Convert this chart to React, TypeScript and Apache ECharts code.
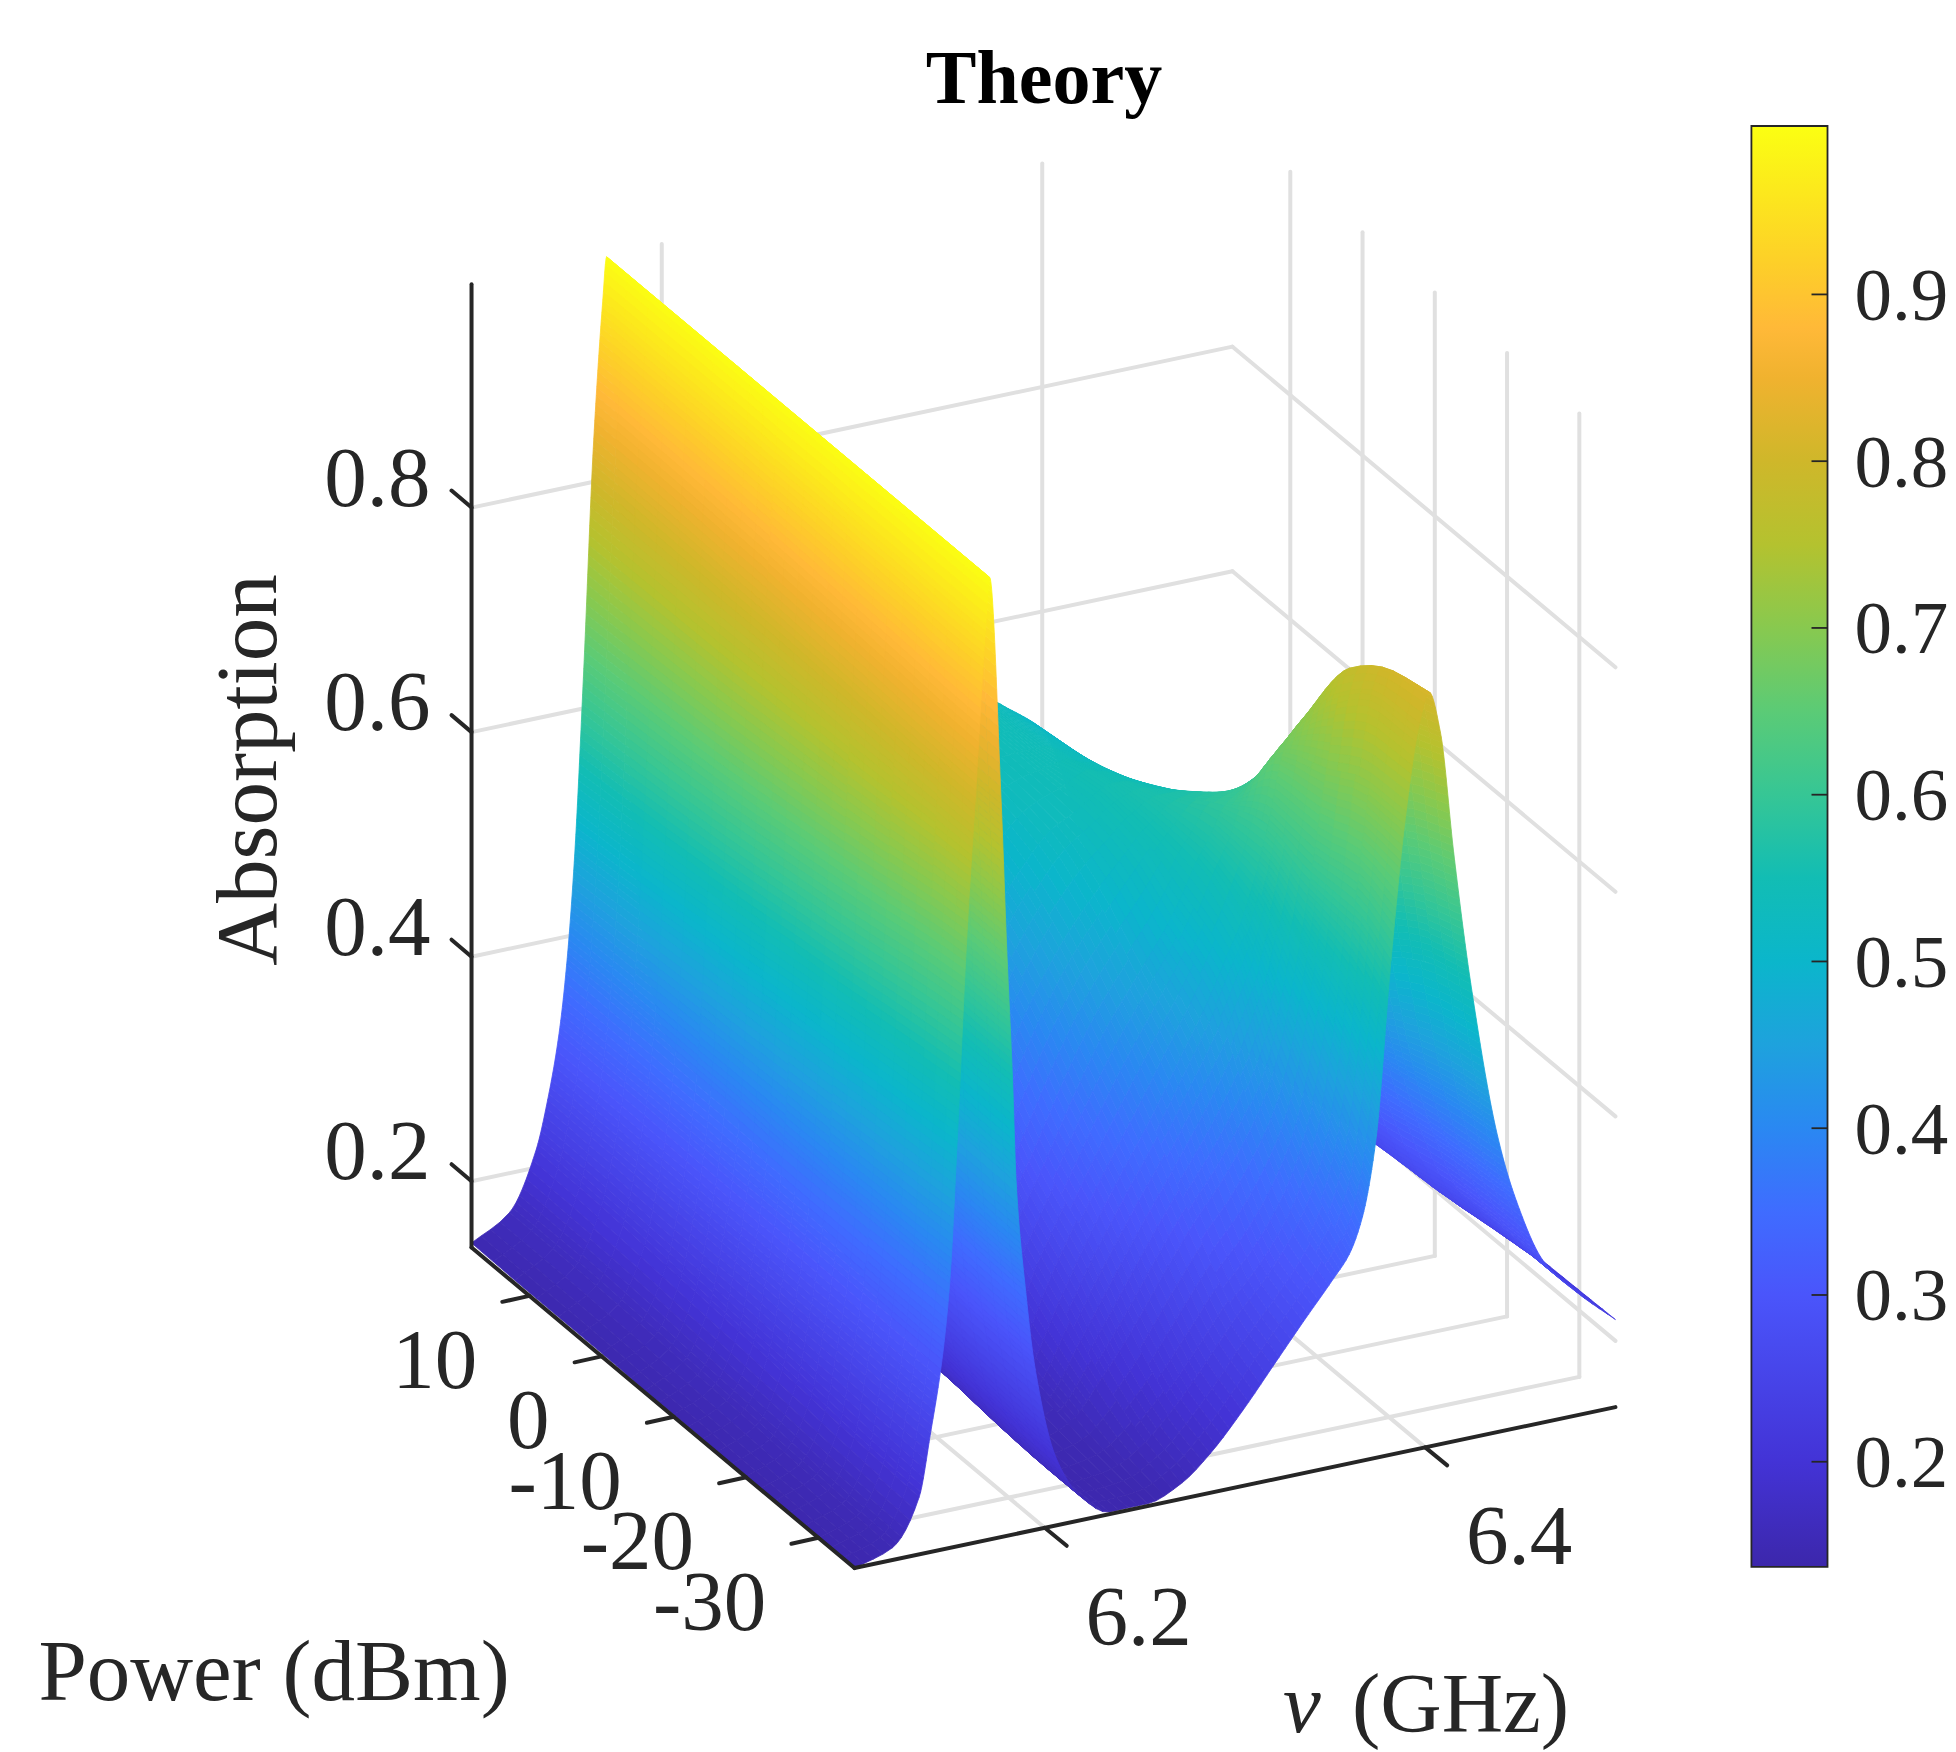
import React, { useEffect, useRef } from "react";
import * as echarts from "echarts";

// ---------- data ----------
const frequencies = [6.100,6.120,6.134,6.140,6.146,6.150,6.154,6.159,6.164,6.169,6.171,6.177,6.180,6.183,6.185,6.190,6.195,6.206,6.220,6.234,6.254,6.272,6.287,6.304,6.320,6.336,6.352,6.360,6.367,6.374,6.382,6.390,6.397,6.402,6.408,6.415,6.424,6.438,6.448,6.462,6.480,6.500];
const powers = [-35,-30,-24,-18,-12,-6,0,9,18];
const absM35 = [.141,.152,.192,.247,.31,.376,.502,.68,.817,.957,.998,.80,.665,.55,.454,.355,.284,.201,.16,.143,.143,.155,.176,.208,.242,.276,.309,.327,.358,.423,.581,.711,.787,.813,.775,.665,.545,.405,.343,.285,.25,.219];
const absM30 = [.141,.153,.194,.248,.31,.375,.498,.676,.818,.957,.998,.80,.665,.55,.455,.356,.285,.202,.16,.143,.147,.165,.19,.225,.26,.29,.33,.36,.40,.47,.60,.71,.785,.805,.76,.65,.535,.40,.34,.284,.25,.218];
const absM24 = [.142,.155,.197,.25,.311,.374,.494,.668,.82,.958,.998,.80,.665,.55,.456,.358,.287,.205,.162,.145,.155,.19,.225,.27,.31,.345,.39,.42,.46,.52,.60,.69,.755,.775,.725,.62,.51,.39,.335,.28,.245,.217];
const absM18 = [.142,.157,.201,.251,.312,.373,.489,.661,.822,.958,.998,.80,.665,.55,.457,.36,.29,.21,.166,.147,.165,.225,.275,.325,.37,.42,.47,.50,.525,.56,.61,.672,.692,.70,.665,.57,.47,.38,.325,.27,.24,.216];
const absM12 = [.143,.159,.204,.253,.313,.373,.485,.655,.824,.959,.998,.80,.665,.551,.459,.363,.294,.216,.171,.148,.185,.26,.31,.37,.42,.46,.50,.525,.55,.57,.595,.605,.613,.618,.59,.52,.445,.37,.315,.265,.24,.216];
const absM6 = [.143,.161,.207,.254,.313,.374,.48,.649,.826,.959,.998,.80,.665,.552,.462,.37,.30,.23,.19,.17,.23,.30,.36,.42,.465,.50,.53,.545,.555,.565,.57,.572,.567,.56,.535,.49,.42,.355,.305,.26,.235,.216];
const absP0 = [.144,.163,.21,.255,.314,.374,.476,.644,.827,.96,.998,.80,.666,.554,.466,.376,.31,.245,.21,.19,.26,.34,.40,.455,.495,.525,.54,.55,.555,.555,.55,.545,.54,.53,.505,.46,.40,.34,.295,.255,.235,.216];
const absP9 = [.144,.165,.214,.257,.315,.375,.47,.639,.829,.96,.998,.80,.667,.557,.47,.385,.325,.265,.235,.22,.30,.37,.43,.49,.52,.535,.54,.54,.54,.535,.53,.52,.51,.50,.48,.44,.385,.33,.29,.25,.23,.216];
const absP18 = [.145,.165,.216,.258,.315,.375,.465,.635,.83,.96,.998,.80,.668,.56,.475,.39,.335,.28,.26,.25,.33,.40,.46,.51,.53,.54,.54,.54,.535,.53,.52,.51,.50,.49,.465,.425,.375,.32,.285,.25,.23,.216];
const absorption = [absM35, absM30, absM24, absM18, absM12, absM6, absP0, absP9, absP18];

const nuTicks = [6.2, 6.4];
const powerTicks = [-30, -20, -10, 0, 10];
const absTicks = [0.2, 0.4, 0.6, 0.8];
const barTicks = [0.2, 0.3, 0.4, 0.5, 0.6, 0.7, 0.8, 0.9];
const colorValues = [.137,.2,.3,.35,.4,.45,.5,.55,.6,.65,.7,.75,.8,.85,.88,.92,1.001];
const colorHexes = ["#3c27ab","#4333d6","#4a55fb","#3f6cff","#2a88f2","#1ea2dd","#0bb6cb","#12bdb4","#36c695","#5bcb76","#88c94f","#b4c22f","#cfb72a","#f0b22f","#ffb938","#fdd028","#fbff12"];

// ---------- view ----------
const NU0 = 6.1, NU1 = 6.5, P0 = -35, P1 = 18, Z0 = 0.141, Z1 = 0.999, BAR_MIN = 0.137, BAR_MAX = 1.001;
const S = 1956 / 1568;
const ORIGIN = [685 * S, 1257 * S], VNU = [610 * S, -129 * S], VP = [-307 * S, -257 * S], VZ = 900 * S;
const FONT = "'Liberation Serif','Times New Roman',serif";
const INK = "#262626", GRID = "#e0e0e0";

const project = (nu: number, p: number, z: number) => {
  const f = (nu - NU0) / (NU1 - NU0), t = (p - P0) / (P1 - P0);
  return [ORIGIN[0] + VNU[0] * f + VP[0] * t, ORIGIN[1] + VNU[1] * f + VP[1] * t - VZ * (z - Z0)];
};

const parsed = colorHexes.map((h) => [1, 3, 5].map((i) => parseInt(h.slice(i, i + 2), 16)));
const colorOf = (z: number) => {
  let i = 0;
  while (i < colorValues.length - 2 && z > colorValues[i + 1]) i++;
  const a = Math.max(0, Math.min(1, (z - colorValues[i]) / (colorValues[i + 1] - colorValues[i])));
  const c = parsed[i].map((v, k) => Math.round(v + (parsed[i + 1][k] - v) * a));
  return `rgb(${c[0]},${c[1]},${c[2]})`;
};

// Rendering only: the mesh between the table's nodes is drawn with a monotone curve, so the surface looks smooth.
const slopes = (xs: number[], ys: number[]) => {
  const n = xs.length;
  const d = xs.slice(0, n - 1).map((x, i) => (ys[i + 1] - ys[i]) / (xs[i + 1] - x));
  const m = new Array(n).fill(0);
  m[0] = d[0];
  m[n - 1] = d[n - 2];
  for (let i = 1; i < n - 1; i++) {
    if (d[i - 1] * d[i] > 0) {
      const h0 = xs[i] - xs[i - 1], h1 = xs[i + 1] - xs[i];
      const w0 = 2 * h1 + h0, w1 = h1 + 2 * h0;
      m[i] = (w0 + w1) / (w0 / d[i - 1] + w1 / d[i]);
    }
  }
  return m;
};
const hermite = (x0: number, x1: number, y0: number, y1: number, m0: number, m1: number, u: number) => {
  const h = x1 - x0, u2 = u * u, u3 = u2 * u;
  return (2 * u3 - 3 * u2 + 1) * y0 + (u3 - 2 * u2 + u) * h * m0 + (-2 * u3 + 3 * u2) * y1 + (u3 - u2) * h * m1;
};
const rowSlopes = absorption.map((row) => slopes(frequencies, row));
const surfaceZ = (c: number, u: number, r: number, v: number) => {
  const col = absorption.map((row, k) =>
    hermite(frequencies[c], frequencies[c + 1], row[c], row[c + 1], rowSlopes[k][c], rowSlopes[k][c + 1], u));
  const m = slopes(powers, col);
  return hermite(powers[r], powers[r + 1], col[r], col[r + 1], m[r], m[r + 1], v);
};

// far-to-near order of the surface's cells (painter's order for this view)
const cells: number[][] = [];
for (let r = powers.length - 2; r >= 0; r--) for (let c = frequencies.length - 2; c >= 0; c--) cells.push([c, r]);

export default function App() {
  const ref = useRef<HTMLDivElement>(null);
  useEffect(() => {
    const chart = echarts.init(ref.current!, null, { renderer: "svg" });
    const line = (api: any, a: number[], b: number[], color: string, width: number) => {
      const p = api.coord(a), q = api.coord(b);
      return { type: "line", shape: { x1: p[0], y1: p[1], x2: q[0], y2: q[1] }, style: { stroke: color, lineWidth: width, lineCap: "round" } };
    };

    const renderGrid = (_: any, api: any) => {
      const ch: any[] = [];
      const g = (a: number[], b: number[]) => ch.push(line(api, a, b, GRID, 4));
      nuTicks.forEach((n) => {
        g(project(n, P0, Z0), project(n, P1, Z0));
        g(project(n, P1, Z0), project(n, P1, Z1));
      });
      powerTicks.forEach((p) => {
        g(project(NU0, p, Z0), project(NU1, p, Z0));
        g(project(NU1, p, Z0), project(NU1, p, Z1));
      });
      absTicks.forEach((z) => {
        g(project(NU0, P1, z), project(NU1, P1, z));
        g(project(NU1, P1, z), project(NU1, P0, z));
      });
      return { type: "group", children: ch };
    };

    const renderCell = (_: any, api: any) => {
      const c = api.value(0), r = api.value(1);
      const n0 = frequencies[c], n1 = frequencies[c + 1], p0 = powers[r], p1 = powers[r + 1];
      const z00 = absorption[r][c], z10 = absorption[r][c + 1], z01 = absorption[r + 1][c], z11 = absorption[r + 1][c + 1];
      const nf = Math.max(4, Math.min(24, Math.ceil(Math.max(Math.abs(z10 - z00), Math.abs(z11 - z01)) / 0.007)));
      const nt = Math.max(3, Math.min(14, Math.ceil(Math.max(Math.abs(z01 - z00), Math.abs(z11 - z10)) / 0.01)));
      const zs: number[][] = [];
      for (let j = 0; j <= nt; j++) {
        zs.push([]);
        for (let i = 0; i <= nf; i++) zs[j].push(surfaceZ(c, i / nf, r, j / nt));
      }
      const pt = (i: number, j: number) => api.coord(project(n0 + ((n1 - n0) * i) / nf, p0 + ((p1 - p0) * j) / nt, zs[j][i]));
      const children: any[] = [];
      for (let j = nt - 1; j >= 0; j--) {
        for (let i = nf - 1; i >= 0; i--) {
          const color = colorOf((zs[j][i] + zs[j][i + 1] + zs[j + 1][i] + zs[j + 1][i + 1]) / 4);
          children.push({
            type: "polygon",
            shape: { points: [pt(i, j), pt(i + 1, j), pt(i + 1, j + 1), pt(i, j + 1)] },
            style: { fill: color, stroke: color, lineWidth: 0.8 },
          });
        }
      }
      return { type: "group", children };
    };

    const text = (api: any, pos: number[], s: string, align: string, size: number) => {
      const p = api.coord(pos);
      return { type: "text", style: { x: p[0], y: p[1], text: s, fontFamily: FONT, fontSize: size, fill: INK, align, verticalAlign: "middle" } };
    };

    const renderAxes = (_: any, api: any) => {
      const ch: any[] = [];
      const k = (a: number[], b: number[]) => ch.push(line(api, a, b, INK, 4));
      k(project(NU0, P1, Z0), project(NU0, P1, Z1));
      k(project(NU0, P1, Z0), project(NU0, P0, Z0));
      k(project(NU0, P0, Z0), project(NU1, P0, Z0));
      absTicks.forEach((z) => {
        const a = project(NU0, P1, z);
        k(a, [a[0] - 20, a[1] - 17]);
        ch.push(text(api, [a[0] - 41, a[1] - 31], z.toFixed(1), "right", 85));
      });
      nuTicks.forEach((n) => {
        const a = project(n, P0, Z0);
        k(a, [a[0] + 22, a[1] + 18]);
        ch.push(text(api, [a[0] + 94, a[1] + 88], n.toFixed(1), "center", 85));
      });
      powerTicks.forEach((p) => {
        const a = project(NU0, p, Z0);
        k(a, [a[0] - 27, a[1] + 6]);
        ch.push(text(api, [a[0] - 52, a[1] + 63], String(p), "right", 85));
      });
      return { type: "group", children: ch };
    };

    const renderBar = (_: any, api: any) => {
      const a = api.coord([0, BAR_MAX]), b = api.coord([1, BAR_MIN]);
      const stops = colorValues.map((v, i) => ({
        offset: Math.max(0, Math.min(1, (BAR_MAX - v) / (BAR_MAX - BAR_MIN))),
        color: colorHexes[i],
      })).reverse();
      const shape = { x: a[0], y: a[1], width: b[0] - a[0], height: b[1] - a[1] };
      const ticks = barTicks.map((v) => {
        const q = api.coord([1, v]);
        return { type: "line", shape: { x1: q[0] - 16, y1: q[1], x2: q[0], y2: q[1] }, style: { stroke: INK, lineWidth: 1.8 } };
      });
      return {
        type: "group",
        children: [
          { type: "rect", shape, style: { fill: new echarts.graphic.LinearGradient(0, 0, 0, 1, stops) } },
          { type: "rect", shape, style: { fill: "none", stroke: INK, lineWidth: 1.8 } },
          ...ticks,
        ],
      };
    };

    chart.setOption({
      animation: false,
      backgroundColor: "#ffffff",
      title: {
        text: "Theory",
        left: 1039,
        top: 34,
        textAlign: "center",
        textStyle: { fontFamily: FONT, fontWeight: "bold", fontSize: 76, color: "#000" },
      },
      grid: [
        { left: 0, top: 0, width: 1956, height: 1752 },
        { left: 1404 * S, width: 61 * S, top: 101 * S, height: 1155 * S },
      ],
      xAxis: [
        { type: "value", min: 0, max: 1956, show: false, gridIndex: 0 },
        { type: "value", min: 0, max: 1, show: false, gridIndex: 1 },
      ],
      yAxis: [
        { type: "value", min: 0, max: 1752, inverse: true, show: false, gridIndex: 0 },
        {
          type: "value",
          gridIndex: 1,
          min: BAR_MIN,
          max: BAR_MAX,
          position: "right",
          axisLine: { show: false },
          splitLine: { show: false },
          axisTick: { show: false },
          axisLabel: {
            show: true,
            customValues: barTicks,
            margin: 27,
            fontFamily: FONT,
            fontSize: 75,
            color: INK,
            formatter: (v: number) => v.toFixed(1),
          },
        },
      ],
      graphic: [
        { type: "text", x: 246, y: 770, rotation: Math.PI / 2, style: { text: "Absorption", fontFamily: FONT, fontSize: 87, fill: INK, align: "center", verticalAlign: "middle" } },
        { type: "text", x: 274, y: 1670, style: { text: "Power (dBm)", fontFamily: FONT, fontSize: 87, fill: INK, align: "center", verticalAlign: "middle" } },
        { type: "text", x: 1283, y: 1703, style: { text: "ν", fontFamily: FONT, fontStyle: "italic", fontSize: 85, fill: INK, align: "left", verticalAlign: "middle" } },
        { type: "text", x: 1352, y: 1703, style: { text: "(GHz)", fontFamily: FONT, fontSize: 85, fill: INK, align: "left", verticalAlign: "middle" } },
      ],
      series: [
        { type: "custom", coordinateSystem: "cartesian2d", xAxisIndex: 0, yAxisIndex: 0, data: [[0, 0]], renderItem: renderGrid, silent: true, clip: false },
        { type: "custom", coordinateSystem: "cartesian2d", xAxisIndex: 0, yAxisIndex: 0, data: cells, renderItem: renderCell, silent: true, clip: false, encode: { x: 0, y: 1 } },
        { type: "custom", coordinateSystem: "cartesian2d", xAxisIndex: 0, yAxisIndex: 0, data: [[0, 0]], renderItem: renderAxes, silent: true, clip: false },
        { type: "custom", coordinateSystem: "cartesian2d", xAxisIndex: 1, yAxisIndex: 1, data: [[0, BAR_MIN]], renderItem: renderBar, silent: true, clip: false },
      ],
    });
    return () => chart.dispose();
  }, []);
  return <div ref={ref} style={{ position: "absolute", left: 0, top: 0, width: 1956, height: 1752 }} />;
}
